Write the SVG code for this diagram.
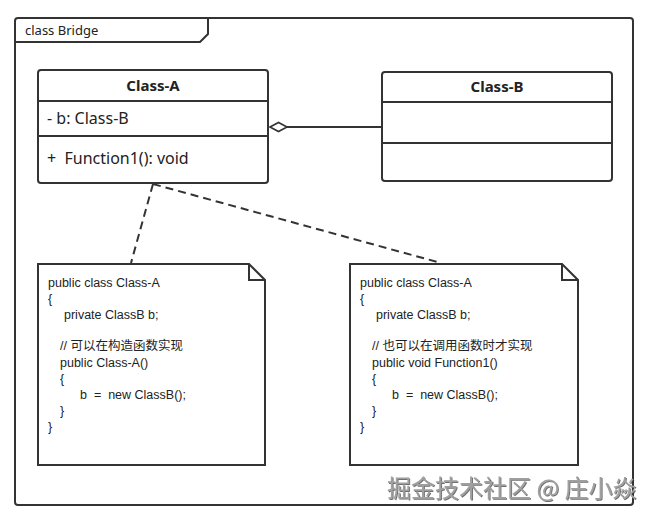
<svg xmlns="http://www.w3.org/2000/svg" width="653" height="517" viewBox="0 0 653 517">
<style>
.frame{fill:none;stroke:#333;stroke-width:2}
.box{fill:#fff;stroke:#333;stroke-width:2}
.ln{stroke:#333;stroke-width:2;fill:none}
.dash{stroke:#333;stroke-width:2;fill:none;stroke-dasharray:8 5}
.t{font-family:"Noto Sans","Noto Sans CJK SC",sans-serif;fill:#222;white-space:pre}
.code{font-family:"Liberation Sans","Noto Sans CJK SC",sans-serif;font-size:12.5px}
.title{font-size:15px;font-weight:bold;text-anchor:middle}
.attr{font-size:16px}
.wm{font-family:"Noto Sans CJK SC",sans-serif;font-size:24px;fill:#a0a0a0}
</style>
<defs>
<filter id="sh" x="-5%" y="-20%" width="110%" height="150%">
<feDropShadow dx="1" dy="1" stdDeviation="0.6" flood-color="#333" flood-opacity="0.7"/>
</filter>
</defs>
<g id="frame">
<rect class="frame" x="15" y="18" width="618" height="487" rx="3"/>
<path class="ln" d="M15,42 L200,42 L208,34 L208,18"/>
<text class="t" x="25" y="35" font-size="13">class Bridge</text>
</g>
<g id="class-a">
<rect class="box" x="38" y="70" width="230" height="113" rx="3"/>
<line class="ln" x1="38" y1="101" x2="268" y2="101"/>
<line class="ln" x1="38" y1="136" x2="268" y2="136"/>
<text class="t title" x="153" y="91">Class-A</text>
<text class="t attr" x="47" y="124">- b: Class-B</text>
<text class="t attr" x="47" y="164">+  Function1(): void</text>
</g>
<g id="class-b">
<rect class="box" x="382" y="72" width="230" height="109" rx="3"/>
<line class="ln" x1="382" y1="102" x2="612" y2="102"/>
<line class="ln" x1="382" y1="143" x2="612" y2="143"/>
<text class="t title" x="497" y="92">Class-B</text>
</g>
<g id="connectors">
<line class="ln" x1="382" y1="127" x2="287" y2="127"/>
<path d="M270,127 L278.5,122.5 L287,127 L278.5,131.5 Z" fill="#fff" stroke="#333" stroke-width="1.6"/>
<line class="dash" x1="153" y1="184" x2="131" y2="263"/>
<line class="dash" x1="153" y1="184" x2="441" y2="263"/>
</g>
<g id="note-1">
<path class="box" d="M38,264 L249,264 L265,280 L265,465 L38,465 Z"/>
<path class="ln" d="M249,264 L249,280 L265,280"/>
<text class="t code" x="48" y="287">public class Class-A</text>
<text class="t code" x="48" y="303">{</text>
<text class="t code" x="64" y="319">private ClassB b;</text>
<text class="t code" x="60" y="350">// 可以在构造函数实现</text>
<text class="t code" x="60" y="367">public Class-A()</text>
<text class="t code" x="60" y="383">{</text>
<text class="t code" x="80" y="399">b  =  new ClassB();</text>
<text class="t code" x="60" y="415">}</text>
<text class="t code" x="48" y="431">}</text>
</g>
<g id="note-2">
<path class="box" d="M350,264 L562,264 L578,280 L578,465 L350,465 Z"/>
<path class="ln" d="M562,264 L562,280 L578,280"/>
<text class="t code" x="360" y="287">public class Class-A</text>
<text class="t code" x="360" y="303">{</text>
<text class="t code" x="376" y="319">private ClassB b;</text>
<text class="t code" x="372" y="350">// 也可以在调用函数时才实现</text>
<text class="t code" x="372" y="367">public void Function1()</text>
<text class="t code" x="372" y="383">{</text>
<text class="t code" x="392" y="399">b  =  new ClassB();</text>
<text class="t code" x="372" y="415">}</text>
<text class="t code" x="360" y="431">}</text>
</g>
<text class="wm" x="387" y="497" filter="url(#sh)">掘金技术社区 @ 庄小焱</text>
</svg>
